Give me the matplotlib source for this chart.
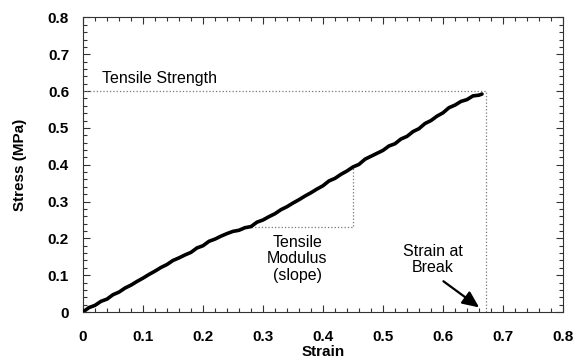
"""Stress-strain curve with tensile strength, modulus and strain at break marked.
"""
import matplotlib.pyplot as plt
from matplotlib.ticker import MultipleLocator

plt.rcParams['font.family'] = ['Liberation Sans', 'DejaVu Sans']

# Curve
strain = [0.000, 0.010, 0.020, 0.030, 0.040, 0.050, 0.060, 0.070, 0.080, 0.090,
          0.100, 0.110, 0.120, 0.130, 0.140, 0.150, 0.160, 0.170, 0.180, 0.190,
          0.200, 0.210, 0.220, 0.230, 0.240, 0.250, 0.260, 0.270, 0.280, 0.290,
          0.300, 0.310, 0.320, 0.330, 0.340, 0.350, 0.360, 0.370, 0.380, 0.390,
          0.400, 0.410, 0.420, 0.430, 0.440, 0.450, 0.460, 0.470, 0.480, 0.490,
          0.500, 0.510, 0.520, 0.530, 0.540, 0.550, 0.560, 0.570, 0.580, 0.590,
          0.600, 0.610, 0.620, 0.630, 0.640, 0.650, 0.660, 0.665]
stress = [0.000, 0.012, 0.018, 0.029, 0.035, 0.047, 0.054, 0.065, 0.073, 0.083,
          0.092, 0.102, 0.111, 0.121, 0.129, 0.140, 0.147, 0.155, 0.162, 0.174,
          0.180, 0.192, 0.198, 0.206, 0.213, 0.219, 0.222, 0.229, 0.232, 0.244,
          0.250, 0.259, 0.267, 0.278, 0.286, 0.296, 0.305, 0.315, 0.324, 0.334,
          0.343, 0.356, 0.363, 0.374, 0.383, 0.394, 0.401, 0.415, 0.423, 0.431,
          0.439, 0.451, 0.457, 0.470, 0.477, 0.490, 0.498, 0.512, 0.520, 0.532,
          0.541, 0.555, 0.562, 0.572, 0.577, 0.587, 0.589, 0.592]

tensile_strength = 0.60
break_strain = 0.672
modulus_x = [0.275, 0.45]
modulus_y = [0.231, 0.394]

fig = plt.figure(figsize=(5.75, 3.59), dpi=100)
ax = fig.add_axes([0.1443, 0.1309, 0.8348, 0.8204])

ax.plot(strain, stress, color='black', linewidth=2.6, solid_capstyle='round',
        solid_joinstyle='miter', zorder=3)

# Guide lines
dot = dict(color='#777777', linestyle=':', linewidth=0.9, zorder=2)
ax.plot([0, break_strain], [tensile_strength, tensile_strength], **dot)
ax.plot([break_strain, break_strain], [0, tensile_strength], **dot)
ax.plot([modulus_x[0], modulus_x[1], modulus_x[1]],
        [modulus_y[0], modulus_y[0], modulus_y[1]], **dot)

# Annotations
ax.text(0.032, 0.622, 'Tensile Strength', fontsize=11.5, ha='left', va='baseline')
ax.text(0.357, 0.144, 'Tensile\nModulus\n(slope)', fontsize=11.5, ha='center',
        va='center', linespacing=1.12)
ax.text(0.583, 0.142, 'Strain at\nBreak', fontsize=11.5, ha='center', va='center',
        linespacing=1.12)
ax.annotate('', xy=(0.664, 0.008), xytext=(0.597, 0.088),
            arrowprops=dict(arrowstyle='-|>,head_length=1.0,head_width=0.45',
                            color='black', linewidth=1.6))

ax.set_xlim(0, 0.8)
ax.set_ylim(0, 0.8)
ax.xaxis.set_major_locator(MultipleLocator(0.1))
ax.xaxis.set_minor_locator(MultipleLocator(0.02))
ax.yaxis.set_major_locator(MultipleLocator(0.1))
ax.yaxis.set_minor_locator(MultipleLocator(0.02))
ax.xaxis.set_major_formatter(lambda v, p: '0' if abs(v) < 1e-9 else '{:g}'.format(v))
ax.yaxis.set_major_formatter(lambda v, p: '0' if abs(v) < 1e-9 else '{:g}'.format(v))

ax.tick_params(which='both', direction='in', top=True, right=True,
               color='#333333', width=0.8)
ax.tick_params(which='major', length=5, labelsize=11)
ax.tick_params(which='minor', length=3)
ax.tick_params(axis='x', which='major', pad=13)
ax.tick_params(axis='y', which='major', pad=10)
for lab in ax.get_xticklabels() + ax.get_yticklabels():
    lab.set_fontweight('bold')
for spine in ax.spines.values():
    spine.set_linewidth(0.8)
    spine.set_color('#333333')

ax.set_xlabel('Strain', fontsize=11, fontweight='bold', labelpad=1)
ax.set_ylabel('Stress (MPa)', fontsize=11, fontweight='bold', labelpad=15)

plt.savefig('out.png', dpi=100)
